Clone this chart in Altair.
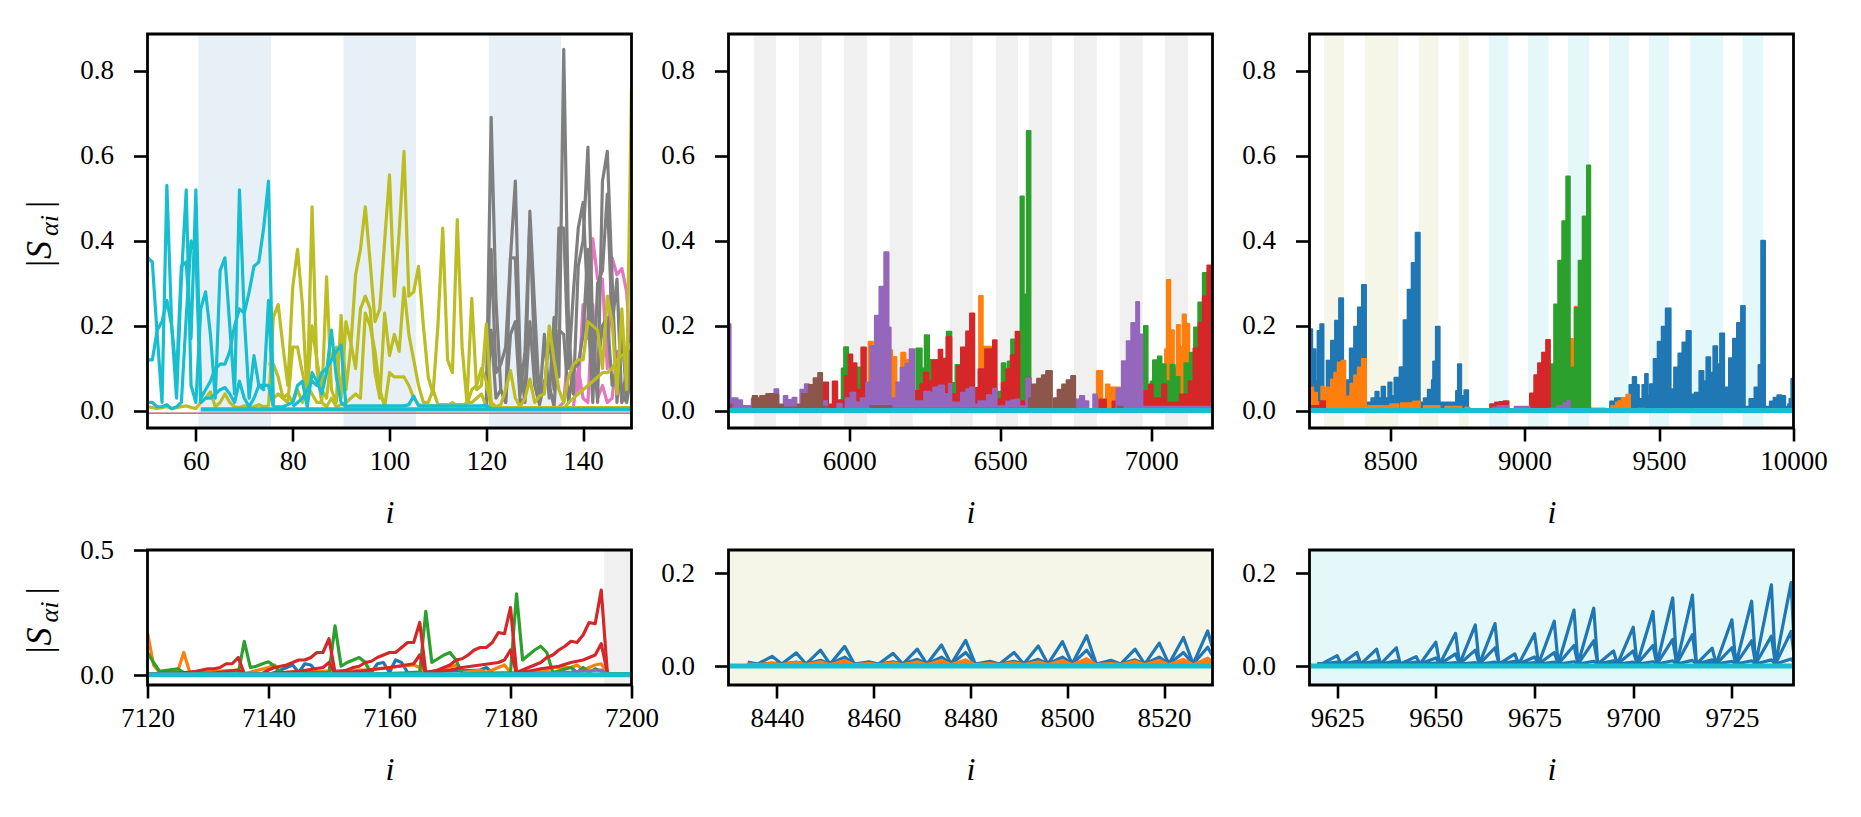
import altair as alt
import pandas as pd

# tab10 colours used by the series
BLUE = '#1f77b4'
ORANGE = '#ff7f0e'
GREEN = '#2ca02c'
RED = '#d62728'
PURPLE = '#9467bd'
BROWN = '#8c564b'
PINK = '#e377c2'
GRAY = '#7f7f7f'
OLIVE = '#bcbd22'
CYAN = '#17becf'

BAND_BLUE = '#e8f0f7'
BAND_GRAY = '#f0f0f0'
BAND_OLIVE = '#f5f6e8'
BAND_CYAN = '#e4f7f9'

# ---- shaded index ranges
a_bands = [(60.5, 75.5), (90.5, 105.5), (120.5, 135.5)]
b_bands = [(5684, 5757), (5833, 5909), (5982, 6058), (6134, 6210), (6333, 6409),
           (6485, 6559), (6596, 6672), (6744, 6820), (6896, 6972), (7046, 7122), (7196, 7200)]
c_bands_olive = [(8254, 8328), (8406, 8530), (8606, 8679), (8755, 8791)]
c_bands_cyan = [(8866, 8940), (9013, 9089), (9162, 9240), (9314, 9389), (9463, 9537),
                (9616, 9738), (9811, 9888)]

# ---- panel a: consecutive samples, (first index, values)
a_cyan1 = (50, [.36, .35, .18, .02, .53, .20, .03, .31, .52, .06, .02, .24, .28, .18, .03, .33, .36, .20,
                .04, .52, .22, .03, .13, .06, .05, .26, .01])
a_cyan2 = (50, [.12, .12, .19, .21, .26, .20, .08, .34, .35, .17, .52, .03, .05, .07, .10, .11, .11, .14,
                .20, .24, .23, .28, .34, .35, .43, .54, .02])
a_cyan3 = (50, [.02, .02, .01, .01, .015, .005, .01, .02, .22, .40, .37, .02, .03, .03, .04, .05, .055,
                .04, .02, .07, .03, .01, .03, .06, .06, .06, .01])
a_cyan4 = (76, [.01, .01, .01, .015, .02, .06, .07, .01, .09, .07, .04, .09, .19, .08, .02, .01])
a_cyan5 = (80, [.01, .02, .03, .05, .07, .06, .09, .10, .12, .14, .155, .01, .012, .012, .012, .012, .012,
                .012, .012, .012, .012, .012, .012, .012, .015, .035, .012, .012, .012, .012, .012, .012,
                .012, .012, .012, .012, .012, .012, .012, .012, .014, .005])
a_olive1 = (75, [.01, .22, .25, .15, .06, .29, .38, .25, .03, .48, .10, .02, .315, .05, .02, .225, .05, .15,
                 .32, .38, .48, .35, .21, .24, .40, .555, .27, .42, .61, .27, .28, .34, .20, .08, .04, .20,
                 .43, .12, .09, .45, .15, .02, .265, .05, .06, .205, .02])
a_olive2 = (75, [.11, .11, .08, .03, .02, .15, .15, .09, .04, .20, .12, .05, .03, .13, .15, .03, .21, .16,
                 .10, .24, .27, .24, .09, .03, .23, .13, .18, .14, .29, .18, .12, .06, .02, .02, .05, .015,
                 .015, .015, .015, .015, .015, .015, .05, .06, .10, .07, .01])
a_olive3 = (76, [.03, .04, .03, .04, .02, .05, .02, .06, .04, .02, .02, .01, .03, .01, .015, .02, .03, .04,
                 .03, .23, .20, .14, .05, .01, .09, .08, .08, .08, .06, .03, .015, .012, .012, .012, .012,
                 .012, .012, .02, .012, .012, .02, .02, .03, .04, .01])
a_olive4 = (50, [.01, .008, .006, .008, .01, .006, .008, .01, .012, .008, .006, .02, .03, .045, .01, .02,
                 .04, .02, .01, .008, .012, .008, .01, .015, .01, .012])
a_olive5 = (120, [.06, .02, .01, .015, .05, .095, .03, .01, .03, .075, .02, .035, .04, .20, .12, .05, .02,
                  .08, .11, .12, .12, .21, .20, .19, .10, .27, .21, .04, .24, .05, .76])
a_olive6 = (135, [.01, .005, .02, .03, .04, .05, .06, .07, .08, .09, .09, .10, .12, .13, .14, .16])
a_gray1 = (120, [.02, .69, .26, .05, .02, .36, .54, .11, .02, .47, .24, .02, .18, .03, .22, .08, .85, .19,
                 .04, .34, .40, .62, .18, .02, .54, .61, .31, .02, .19, .03, .19])
a_gray2 = (120, [.01, .38, .09, .11, .15, .36, .36, .04, .14, .45, .12, .03, .05, .18, .05, .43, .43, .10,
                 .28, .43, .49, .24, .02, .30, .33, .51, .20, .31, .02, .10, .05])
a_gray3 = (120, [.005, .19, .03, .05, .02, .18, .21, .02, .03, .21, .06, .015, .07, .06, .01, .19, .18, .02,
                 .10, .11, .18, .38, .10, .10, .20, .22, .06, .10, .04, .02, .09])
a_pink1 = (135, [.01, .02, .16, .04, .05, .25, .17, .405, .31, .31, .10, .36, .32, .335, .28, .08])
a_pink2 = (138, [.01, .10, .03, .02, .25, .03, .06, .02, .03, .14, .02, .07, .20])
a_low_olive = [(120, .008), (150, .008)]
a_low_cyan = [(61, .004), (150, .004)]
a_low_red = [(50, -.005), (150, -.005)]

# ---- panel b: solid envelopes, (index where a level starts, level)
b_orange = [(6064, .163), (6078, 0), (6130, .143), (6142, .127), (6156, .06), (6172, .137), (6186, .12),
            (6210, 0), (6430, .27), (6442, .151), (6470, 0), (6820, .094), (6838, 0), (6850, .062),
            (6862, .055), (6900, 0), (7046, .145), (7052, .308), (7063, .19), (7075, .10), (7085, .202),
            (7095, .15), (7104, .227), (7115, .205), (7126, 0)]
b_green = [(5975, .10), (5983, .15), (5996, .10), (6028, .102), (6040, .05), (6050, 0), (6222, .147),
           (6240, .10), (6250, .178), (6264, .12), (6323, .186), (6338, .066), (6352, .108), (6365, 0),
           (6488, .045), (6505, .112), (6517, .07), (6525, .116), (6536, .168), (6546, .12), (6563, 0),
           (6567, .504), (6578, .274), (6588, .658), (6600, 0), (6976, .20), (6988, .05), (6998, .069),
           (7006, .119), (7018, .09), (7022, .128), (7034, .10), (7038, .11), (7048, .07), (7064, .108),
           (7078, .05), (7082, .08), (7094, .03), (7110, .112), (7122, .07), (7128, .137), (7142, .196),
           (7156, .255), (7171, .324), (7184, .2), (7200, .2)]
b_red = [(5905, .05), (5915, .067), (5930, .015), (5945, .069), (5960, .025), (5985, .082), (5998, .133),
         (6010, .112), (6024, .05), (6040, .149), (6055, .06), (6070, 0), (6215, .047), (6235, .063),
         (6247, .09), (6262, .07), (6275, .118), (6296, .144), (6308, .123), (6322, .174), (6338, 0),
         (6340, .04), (6357, .106), (6370, .149), (6387, .187), (6400, .229), (6414, .054), (6428, .098),
         (6450, .145), (6476, .166), (6488, 0), (6490, .027), (6505, .066), (6520, .098), (6535, .131),
         (6551, .186), (6563, 0), (6569, .023), (6587, .078), (6600, 0), (6828, .027), (6850, 0),
         (6872, .022), (6885, 0), (6976, .047), (6992, .062), (7005, .03), (7036, .062), (7050, .02),
         (7095, .039), (7124, .07), (7140, .147), (7157, .207), (7171, .269), (7186, .342), (7200, .342)]
b_purple = [(5600, .204), (5607, .03), (5630, .025), (5645, .012), (5665, .012), (5677, .029), (5685, 0),
            (5752, .051), (5765, 0), (5783, .035), (5795, .026), (5812, .031), (5825, 0), (5838, .05),
            (5853, .063), (5866, 0), (5914, .023), (5926, 0), (5960, .017), (5975, 0), (5988, .03),
            (6004, .043), (6020, .02), (6038, .03), (6056, .067), (6070, .153), (6085, .224), (6100, .292),
            (6116, .373), (6130, .196), (6137, .03), (6150, .02), (6156, .067), (6170, .102), (6186, .111),
            (6200, .145), (6215, .023), (6248, .045), (6268, .043), (6278, .055), (6296, .06), (6314, .04),
            (6330, .064), (6338, 0), (6340, .02), (6370, .043), (6388, .051), (6400, .055), (6414, .015),
            (6428, .023), (6456, .037), (6476, .052), (6488, .011), (6520, .022), (6536, .025), (6550, .027),
            (6563, .011), (6586, .077), (6600, 0), (6750, .027), (6764, .035), (6778, .023), (6792, 0),
            (6808, .039), (6820, 0), (6885, .053), (6903, .117), (6919, .164), (6934, .207), (6950, .256),
            (6960, .18), (6971, .01), (7195, .01), (7200, .02)]
b_brown = [(5600, .015), (5610, 0), (5680, .035), (5695, .03), (5705, .035), (5725, .04), (5750, .038),
           (5765, .015), (5780, .008), (5830, .015), (5843, .04), (5866, .061), (5882, .077), (5897, .089),
           (5910, .01), (5930, 0), (6070, .012), (6140, .005), (6595, .03), (6605, .062), (6622, .076),
           (6638, .084), (6652, .094), (6671, 0), (6678, .03), (6690, .05), (6705, .062), (6720, .072),
           (6735, .082), (6748, 0), (6890, .01), (6905, 0)]

# ---- panel c: solid envelopes
c_blue = [(8200, .192), (8210, .145), (8222, .07), (8230, .188), (8240, .204), (8252, .04), (8264, .118),
          (8280, .165), (8295, .212), (8310, .265), (8325, .05), (8336, .072), (8350, .147), (8366, .198),
          (8380, .243), (8395, .296), (8410, .02), (8430, .03), (8445, .045), (8457, .03), (8468, .057),
          (8481, .03), (8493, .067), (8505, .035), (8516, .078), (8531, .03), (8535, .103), (8550, .213),
          (8565, .285), (8580, .348), (8595, .419), (8610, .02), (8625, .03), (8640, .05), (8655, .072),
          (8660, .116), (8670, .198), (8684, .02), (8745, .047), (8752, .11), (8764, .035), (8776, .049),
          (8790, 0), (9318, .022), (9336, .03), (9390, .061), (9402, .08), (9415, .061), (9425, .028),
          (9438, .061), (9448, .087), (9458, .035), (9466, .063), (9480, .122), (9495, .163), (9510, .198),
          (9525, .241), (9543, .051), (9556, .102), (9572, .135), (9587, .161), (9602, .188), (9618, .039),
          (9633, .043), (9650, .094), (9665, .07), (9676, .126), (9690, .09), (9702, .152), (9716, .11),
          (9727, .182), (9742, .055), (9760, .124), (9775, .17), (9790, .207), (9805, .247), (9819, .01),
          (9836, .028), (9855, .055), (9870, .108), (9880, .40), (9894, .01), (9912, .022), (9926, .031),
          (9940, .037), (9955, .035), (9969, .01), (9980, .016), (9985, .028), (9992, .076), (10000, .076)]
c_orange = [(8200, .055), (8214, .043), (8228, .02), (8244, .057), (8254, .03), (8262, .055), (8280, .074),
            (8292, .09), (8305, .114), (8320, .118), (8333, .02), (8338, .034), (8352, .064), (8366, .084),
            (8380, .102), (8395, .122), (8410, .003), (8417, .012), (8500, .016), (8531, .003), (8540, .018),
            (8585, .022), (8610, .003), (8625, .012), (8684, .003), (8705, .01), (8765, .003), (8780, .008),
            (8795, 0), (9170, .169), (9184, 0), (9186, .245), (9197, 0), (9249, .006), (9300, 0), (9322, .012),
            (9340, .02), (9350, .024), (9362, .03), (9378, .038), (9392, 0), (9420, .005), (9450, 0)]
c_green = [(8440, .004), (8480, 0), (9094, .11), (9110, .25), (9125, .353), (9140, .446), (9155, .551),
           (9168, .102), (9187, .242), (9201, .353), (9216, .457), (9232, .577), (9244, 0)]
c_red = [(8200, .012), (8240, .023), (8258, 0), (8872, .016), (8890, .02), (8906, .021), (8922, .023),
         (8940, 0), (9020, .041), (9036, .084), (9050, .112), (9065, .137), (9080, .167), (9094, 0)]
c_purple = [(8880, .008), (8900, .012), (8940, 0), (8963, .01), (9019, 0), (9094, .006), (9120, .012),
            (9145, .018), (9160, .024), (9168, 0)]

# ---- lower-left panel, samples as (index, value)
d_orange = [(7120, .17), (7121, .04), (7122, .01), (7125, .015), (7126, .09), (7127, .01), (7135, .02),
            (7136, .005), (7140, .03), (7141, .04), (7142, .01), (7155, .02), (7156, .02), (7164, .04),
            (7165, .03), (7166, .005), (7171, .04), (7172, .01), (7175, .02), (7176, .01), (7178, .03),
            (7179, .04), (7180, .01), (7186, .02), (7187, .03), (7190, .03), (7191, .04), (7192, .02),
            (7194, .04), (7195, .045), (7196, .005), (7200, .005)]
d_blue = [(7140, .003), (7141, .01), (7143, .03), (7144, .04), (7145, .01), (7146, .045), (7147, .04),
          (7148, .01), (7157, .01), (7158, .045), (7159, .05), (7160, .01), (7161, .06), (7162, .05),
          (7163, .01), (7175, .02), (7176, .03), (7177, .01)]
d_green = [(7120, .09), (7121, .05), (7122, .015), (7125, .025), (7126, .01), (7135, .005), (7136, .135),
           (7137, .03), (7138, .035), (7139, .045), (7140, .053), (7141, .035), (7142, .01), (7150, .01),
           (7151, .197), (7152, .035), (7153, .05), (7154, .06), (7155, .07), (7156, .05), (7157, .005),
           (7165, .01), (7166, .255), (7167, .05), (7168, .065), (7169, .08), (7170, .09), (7171, .06),
           (7172, .005), (7180, .01), (7181, .325), (7182, .06), (7183, .08), (7184, .10), (7185, .115),
           (7186, .09), (7187, .01), (7190, .03), (7191, .01), (7192, .03), (7193, .01), (7194, .025),
           (7195, .015), (7196, .006), (7200, .006)]
d_red1 = [(7120, .005), (7126, .01), (7127, .012), (7128, .015), (7129, .02), (7130, .025), (7131, .025),
          (7132, .03), (7133, .045), (7134, .045), (7135, .07), (7136, .006), (7139, .006), (7140, .02),
          (7141, .03), (7142, .035), (7143, .04), (7144, .05), (7145, .06), (7146, .06), (7147, .07),
          (7148, .09), (7149, .09), (7150, .145), (7151, .01), (7152, .015), (7153, .02), (7154, .03),
          (7155, .035), (7156, .05), (7157, .055), (7158, .07), (7159, .08), (7160, .09), (7161, .09),
          (7162, .11), (7163, .13), (7164, .13), (7165, .21), (7166, .01), (7167, .015), (7168, .02),
          (7169, .03), (7170, .04), (7171, .06), (7172, .065), (7173, .08), (7174, .10), (7175, .11),
          (7176, .11), (7177, .13), (7178, .17), (7179, .165), (7180, .27), (7181, .01), (7182, .02),
          (7183, .03), (7184, .04), (7185, .05), (7186, .07), (7187, .08), (7188, .10), (7189, .115),
          (7190, .135), (7191, .13), (7192, .16), (7193, .21), (7194, .205), (7195, .34), (7196, .01)]
d_red2 = [(7130, .005), (7135, .02), (7136, .005), (7140, .005), (7145, .015), (7149, .03), (7150, .05),
          (7151, .005), (7155, .015), (7160, .03), (7164, .045), (7165, .08), (7166, .005), (7170, .02),
          (7172, .03), (7175, .04), (7178, .05), (7179, .06), (7180, .10), (7181, .005), (7185, .025),
          (7188, .035), (7190, .05), (7192, .06), (7194, .08), (7195, .125), (7196, .01)]
d_purple = [(7180, .004), (7190, .012), (7195, .02), (7196, .004)]

# ---- lower panels, tooth tips of the sawtooth lines
e_tips = [8434, 8439, 8444, 8449, 8454, 8459, 8464, 8469, 8474, 8479, 8484, 8489, 8494, 8499, 8504, 8509,
          8514, 8519, 8524, 8529]
e_blue1 = [.009, .0215, .029, .035, .043, .01, .028, .037, .046, .056, .011, .03, .044, .053, .066, .013,
           .037, .05, .062, .076]
e_blue2 = [.006, .007, .009, .013, .02, .006, .01, .015, .02, .03, .006, .011, .015, .02, .035, .007, .014,
           .02, .03, .041]
e_orange = [.006, .008, .01, .011, .014, .007, .009, .011, .014, .015, .007, .009, .011, .014, .018, .007,
            .012, .014, .016, .019]
f_tips = [9620, 9625, 9630, 9635, 9640, 9645, 9650, 9655, 9660, 9665, 9670, 9675, 9680, 9685, 9690, 9695,
          9700, 9705, 9710, 9715, 9720, 9725, 9730, 9735, 9740]
f_blue1 = [.006, .023, .03, .037, .04, .021, .052, .071, .089, .092, .027, .07, .097, .121, .125, .033,
           .084, .118, .147, .153, .039, .10, .14, .175, .18]
f_blue2 = [.005, .009, .011, .012, .012, .009, .018, .027, .035, .04, .011, .02, .03, .045, .055, .012,
           .033, .045, .058, .068, .014, .04, .055, .065, .075]
f_blue3 = [.005, .005, .006, .006, .007, .005, .007, .008, .008, .009, .006, .008, .009, .01, .011, .006,
           .009, .01, .012, .013, .007, .011, .012, .014, .016]


def pairs(values):
    return pd.DataFrame(values, columns=['i', 'y'])


def run(first_and_values):
    first, values = first_and_values
    return pd.DataFrame({'i': [first + k for k in range(len(values))], 'y': values})


def teeth(tips, heights, drop, low=.005):
    rows = []
    for t, h in zip(tips, heights):
        rows.append((t, h))
        rows.append((t + drop, low))
    return pairs(rows)


def panel(w, h, xdom, ydom, xticks, yticks, bands, curves, ylabel=False):
    x = alt.X('i:Q', title='i', scale=alt.Scale(domain=xdom, nice=False, zero=False),
              axis=alt.Axis(values=xticks, format='d', grid=False, domain=False, tickSize=13, tickWidth=2.6,
                            tickColor='black', labelPadding=7, labelFontSize=27, labelFont='Liberation Serif',
                            labelColor='black', labelFlush=False, labelOverlap=False,
                            titleFont='Liberation Serif', titleFontStyle='italic', titleFontWeight='normal',
                            titleFontSize=32, titleColor='black', titlePadding=23))
    y = alt.Y('y:Q', title=None, stack=None, scale=alt.Scale(domain=ydom, nice=False, zero=False),
              axis=alt.Axis(values=yticks, format='.1f', grid=False, domain=False, tickSize=14, tickWidth=2.6,
                            tickColor='black', labelPadding=20, labelFontSize=27, labelFont='Liberation Serif',
                            labelColor='black', labelFlush=False, labelOverlap=False))
    layers = []
    for color, spans in bands:
        d = pd.DataFrame(spans, columns=['i', 'i2'])
        layers.append(alt.Chart(d).mark_rect(color=color, clip=True).encode(x=x, x2='i2:Q'))
    for kind, color, width, d in curves:
        c = alt.Chart(d)
        if kind == 'line':
            m = c.mark_line(color=color, strokeWidth=width, clip=True, strokeJoin='round')
        elif kind == 'fill':
            m = c.mark_area(color=color, stroke=color, strokeWidth=width, clip=True)
        else:
            m = c.mark_area(color=color, interpolate='step-after', stroke=color, strokeWidth=width,
                            strokeJoin='round', clip=True)
        layers.append(m.encode(x=x, y=y))
    one = pd.DataFrame({'a': [0]})
    frame = alt.Chart(one).mark_rect(fillOpacity=0, stroke='black', strokeWidth=2.8).encode(
        x=alt.value(0), x2=alt.value(w), y=alt.value(0), y2=alt.value(h))
    layers.append(frame)
    if ylabel:
        mid = h / 2 + 38
        for s, size, dx, dy in [('|S', 36, -97, 0), ('αi', 26, -90, -33), ('|', 36, -97, -59)]:
            layers.append(alt.Chart(one).mark_text(text=s, font='Liberation Serif', fontStyle='italic',
                                                   fontSize=size, angle=270, align='left',
                                                   baseline='alphabetic', color='black').encode(
                x=alt.value(dx), y=alt.value(mid + dy)))
    return alt.layer(*layers).properties(width=w, height=h)


W, H_TOP, H_LOW = 484, 394, 135
TOP_Y = [-.04, .886]
LW = 3.2

a_curves = [('line', PINK, LW, run(a_pink1)), ('line', PINK, LW, run(a_pink2)),
            ('line', GRAY, LW, run(a_gray3)), ('line', GRAY, LW, run(a_gray2)), ('line', GRAY, LW, run(a_gray1)),
            ('line', OLIVE, LW, run(a_olive4)), ('line', OLIVE, LW, run(a_olive3)),
            ('line', OLIVE, LW, run(a_olive2)), ('line', OLIVE, LW, run(a_olive1)),
            ('line', OLIVE, LW, run(a_olive6)), ('line', OLIVE, LW, run(a_olive5)),
            ('line', OLIVE, LW, pairs(a_low_olive)),
            ('line', '#a0555f', 1.4, pairs(a_low_red)),
            ('line', CYAN, LW, run(a_cyan3)), ('line', CYAN, LW, run(a_cyan2)), ('line', CYAN, LW, run(a_cyan1)),
            ('line', CYAN, LW, run(a_cyan5)), ('line', CYAN, LW, run(a_cyan4)),
            ('line', CYAN, 4.2, pairs(a_low_cyan))]
base_b = pairs([(5600, .001), (7203, .001)])
b_curves = [('step', ORANGE, 2, pairs(b_orange)), ('step', GREEN, 2, pairs(b_green)),
            ('step', RED, 2, pairs(b_red)), ('step', PURPLE, 2, pairs(b_purple)),
            ('step', BROWN, 2, pairs(b_brown)), ('line', CYAN, 5, base_b)]
base_c = pairs([(8200, .001), (10000, .001)])
c_curves = [('step', BLUE, 2, pairs(c_blue)), ('step', ORANGE, 2, pairs(c_orange)),
            ('step', GREEN, 2, pairs(c_green)), ('step', RED, 2, pairs(c_red)),
            ('step', PURPLE, 2, pairs(c_purple)), ('line', CYAN, 5, base_c)]
d_curves = [('line', BLUE, LW, pairs(d_blue)), ('line', ORANGE, LW, pairs(d_orange)),
            ('line', GREEN, LW, pairs(d_green)), ('line', RED, LW, pairs(d_red2)),
            ('line', RED, LW, pairs(d_red1)), ('line', PURPLE, LW, pairs(d_purple)),
            ('line', CYAN, 5, pairs([(7120, .001), (7200, .001)]))]
e_curves = [('line', BLUE, LW, teeth(e_tips, e_blue1, 2)), ('line', BLUE, LW, teeth(e_tips, e_blue2, 2)),
            ('fill', ORANGE, 2, teeth(e_tips, e_orange, 2)),
            ('line', CYAN, 5, pairs([(8430, .001), (8530, .001)]))]
f_curves = [('line', BLUE, LW, teeth(f_tips, f_blue1, 1)), ('line', BLUE, LW, teeth(f_tips, f_blue2, 1)),
            ('line', BLUE, LW, teeth(f_tips, f_blue3, 1)),
            ('line', CYAN, 5, pairs([(9618, .001), (9740.6, .001)]))]

top_ticks = [0, .2, .4, .6, .8]
pa = panel(W, H_TOP, [50, 150], TOP_Y, [60, 80, 100, 120, 140], top_ticks,
           [(BAND_BLUE, a_bands)], a_curves, ylabel=True)
pb = panel(W, H_TOP, [5600, 7203], TOP_Y, [6000, 6500, 7000], top_ticks, [(BAND_GRAY, b_bands)], b_curves)
pc = panel(W, H_TOP, [8200, 10000], TOP_Y, [8500, 9000, 9500, 10000], top_ticks,
           [(BAND_OLIVE, c_bands_olive), (BAND_CYAN, c_bands_cyan)], c_curves)
pd_ = panel(W, H_LOW, [7120, 7200], [-.04, .5], [7120, 7140, 7160, 7180, 7200], [0, .5],
            [(BAND_GRAY, [(7195.5, 7200)])], d_curves, ylabel=True)
pe = panel(W, H_LOW, [8430, 8530], [-.04, .25], [8440, 8460, 8480, 8500, 8520], [0, .2],
           [(BAND_OLIVE, [(8430, 8530)])], e_curves)
pf = panel(W, H_LOW, [9618, 9740.6], [-.04, .25], [9625, 9650, 9675, 9700, 9725], [0, .2],
           [(BAND_CYAN, [(9618, 9740.6)])], f_curves)

chart = alt.concat(pa, pb, pc, pd_, pe, pf, columns=3, spacing=alt.RowColnumber(row=122, column=97),
                   bounds='flush').configure_view(stroke=None).properties(
    padding={'left': 13.5, 'top': 24, 'right': 5, 'bottom': 5})

chart.save("out.html", embed_options={"renderer": "svg", "actions": False})
